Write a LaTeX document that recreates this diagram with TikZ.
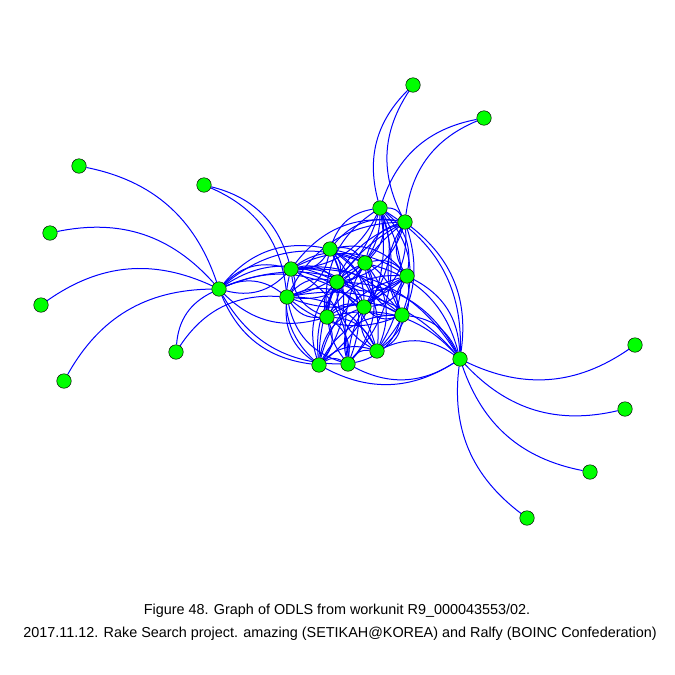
\documentclass[tikz,border=0pt]{standalone}
\usepackage{fontspec}
\setmainfont{Liberation Sans}
\usepackage{tikz}
\usetikzlibrary{positioning,backgrounds}
\tikzset{
  vtx/.style={circle,draw=black,fill=green,minimum size=14.5pt,inner sep=0pt,line width=0.5pt},
  edg/.style={blue,line width=1pt,bend left=30},
  caption/.style={anchor=base,inner sep=0pt,font=\fontsize{14.4}{17}\selectfont},
}

\begin{document}
\begin{tikzpicture}[x=1pt,y=-1pt]
      \useasboundingbox (0,0) rectangle (675,675);
      % left hub and its leaves
      \node[vtx] (P) at (219,289) {};
      \node[vtx] (L1) at (79,166) {};
      \node[vtx] (L2) at (50,233) {};
      \node[vtx] (L3) at (41,305) {};
      \node[vtx] (L4) at (64,381) {};
      \node[vtx] (L5) at (176,352) {};
      \node[vtx] (L6) at (204,185) {};
      % right hub and its leaves
      \node[vtx] (Q) at (460,359) {};
      \node[vtx] (R1) at (635,345) {};
      \node[vtx] (R2) at (625,409) {};
      \node[vtx] (R3) at (590,472) {};
      \node[vtx] (R4) at (527,518) {};
      \node[vtx] (T1) at (413,85) {};
      \node[vtx] (T2) at (484,118) {};
      % core
      \node[vtx] (A) at (380,208) {};
      \node[vtx] (B) at (405,222) {};
      \node[vtx] (C) at (330,249) {};
      \node[vtx] (D) at (365,263) {};
      \node[vtx] (E) at (291,269) {};
      \node[vtx] (F) at (337,282) {};
      \node[vtx] (G) at (407,276) {};
      \node[vtx] (H) at (287,297) {};
      \node[vtx] (I) at (364,307) {};
      \node[vtx] (J) at (402,315) {};
      \node[vtx] (K) at (327,317) {};
      \node[vtx] (M) at (377,351) {};
      \node[vtx] (N) at (319,365) {};
      \node[vtx] (O) at (348,364) {};

      \begin{scope}[on background layer]
      \draw[edg] (L1) to (P);
      \draw[edg] (L2) to (P);
      \draw[edg] (L3) to (P);
      \draw[edg] (L4) to (P);
      \draw[edg] (L5) to (P);
      \draw[edg] (L5) to (H);
      \draw[edg] (L6) to (E);
      \draw[edg] (L6) to (H);
      \draw[edg] (A) to (T1);
      \draw[edg] (B) to (T1);
      \draw[edg] (A) to (T2);
      \draw[edg] (B) to (T2);
      \draw[edg] (R1) to (Q);
      \draw[edg] (R2) to (Q);
      \draw[edg] (R3) to (Q);
      \draw[edg] (R4) to (Q);
      % hubs to the core
      \foreach \v in {E,C,F,H,D,I,J}
        \draw[edg] (P) to (\v);
      \foreach \v in {K,N,O,E}
        \draw[edg] (\v) to (P);
      \foreach \v in {A,B,D,G,J,H,E,K,F,M}
        \draw[edg] (\v) to (Q);
      \foreach \v in {O,N}
        \draw[edg] (Q) to (\v);
      % core, every pair
      \foreach \u [count=\i] in {C,K,A,N,E,J,D,O,G,H,B,M,F,I} {
        \foreach \v [count=\j] in {C,K,A,N,E,J,D,O,G,H,B,M,F,I} {
          \ifnum\i<\j \draw[edg] (\u) to (\v); \fi
        }
      }
      \end{scope}

      \node[caption] (cap1) at (337,614) {Figure 48. Graph of ODLS from workunit R9\_000043553/02.};
      \node[caption] (cap2) at (340,637) {2017.11.12. Rake Search project. amazing (SETIKAH@KOREA) and Ralfy (BOINC Confederation)};
    \end{tikzpicture}
\end{document}
